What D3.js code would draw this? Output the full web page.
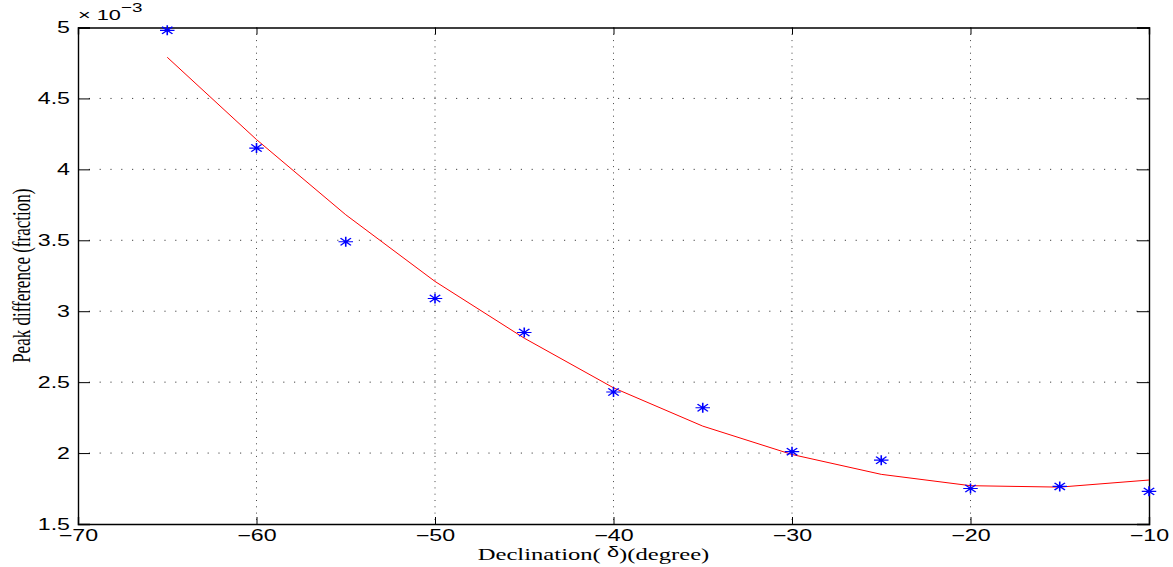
<!DOCTYPE html>
<html>
<head>
<meta charset="utf-8">
<script src="https://cdn.jsdelivr.net/npm/d3@7"></script>
<style>
  body { margin: 0; background: #fff; }
  svg { display: block; }
</style>
</head>
<body>
<div id="graph"></div>
<script>
// data (y values in units of 1e-3)
var declination = [-65, -60, -55, -50, -45, -40, -35, -30, -25, -20, -15, -10];
var measured = [4.98, 4.15, 3.49, 3.09, 2.85, 2.43, 2.32, 2.01, 1.95, 1.75, 1.765, 1.73];
var fitted = [4.79, 4.21, 3.68, 3.21, 2.81, 2.46, 2.19, 1.99, 1.85, 1.77, 1.76, 1.81];
var xTicks = [-70, -60, -50, -40, -30, -20, -10];
var yTicks = [1.5, 2, 2.5, 3, 3.5, 4, 4.5, 5];

// the picture is stretched horizontally, so text gets stretched too
var stretch = 1.45;

var margin = { top: 27.5, right: 24, bottom: 43, left: 78 },
    W = 1173, H = 567,
    width = W - margin.left - margin.right,
    height = H - margin.top - margin.bottom;

var x = d3.scaleLinear().domain([-70, -10]).range([0, width]);
var y = d3.scaleLinear().domain([1.5, 5]).range([height, 0]);

var svg = d3.select("#graph").append("svg")
    .attr("width", W)
    .attr("height", H);

var g = svg.append("g")
    .attr("transform", "translate(" + margin.left + "," + margin.top + ")");

// dotted grid
g.append("g").selectAll("line.gx")
    .data(xTicks.slice(1, -1))
    .enter().append("line")
    .attr("x1", function(d) { return x(d); })
    .attr("x2", function(d) { return x(d); })
    .attr("y1", 0).attr("y2", height)
    .attr("stroke", "#444")
    .attr("stroke-width", 1)
    .attr("stroke-dasharray", "1,5.3");

g.append("g").selectAll("line.gy")
    .data(yTicks.slice(1, -1))
    .enter().append("line")
    .attr("y1", function(d) { return y(d); })
    .attr("y2", function(d) { return y(d); })
    .attr("x1", 0).attr("x2", width)
    .attr("stroke", "#444")
    .attr("stroke-width", 1)
    .attr("stroke-dasharray", "1.2,9.6");

// axes, ticks pointing inward like matlab
var font = "'Liberation Sans', Arial, sans-serif";

var bottom = g.append("g")
    .attr("transform", "translate(0," + height + ")")
    .call(d3.axisBottom(x).tickValues(xTicks).tickSize(-7).tickPadding(0)
        .tickFormat(function(d) { return d3.format("d")(d).replace("-", "\u2212"); }));

bottom.selectAll("text")
    .attr("y", 0)
    .attr("dy", "1.05em")
    .attr("transform", "scale(" + stretch + ",1)")
    .style("font-family", font)
    .style("font-size", "16px");

var left = g.append("g")
    .call(d3.axisLeft(y).tickValues(yTicks).tickSize(-12).tickPadding(0)
        .tickFormat(d3.format("~g")));

left.selectAll("text")
    .attr("x", -8 / stretch)
    .attr("transform", "scale(" + stretch + ",1)")
    .style("font-family", font)
    .style("font-size", "16px");

g.append("g")
    .call(d3.axisTop(x).tickValues(xTicks).tickSize(-7).tickFormat(""));

g.append("g")
    .attr("transform", "translate(" + width + ",0)")
    .call(d3.axisRight(y).tickValues(yTicks).tickSize(-12).tickFormat(""));

g.selectAll(".domain").attr("stroke", "#000").attr("stroke-width", 1.4);
g.selectAll(".tick line").attr("stroke", "#000");

// fitted curve
var line = d3.line()
    .x(function(d, i) { return x(declination[i]); })
    .y(function(d) { return y(d); });

g.append("path")
    .datum(fitted)
    .attr("fill", "none")
    .attr("stroke", "#ff0000")
    .attr("stroke-width", 1)
    .attr("d", line);

// measured points as asterisks
var r = 5, k = r * 0.72;
var star = "M" + (-r) + ",0H" + r +
    "M0," + (-r) + "V" + r +
    "M" + (-k) + "," + (-k) + "L" + k + "," + k +
    "M" + (-k) + "," + k + "L" + k + "," + (-k);

g.append("g").selectAll("path")
    .data(measured)
    .enter().append("path")
    .attr("d", star)
    .attr("transform", function(d, i) {
        return "translate(" + x(declination[i]) + "," + y(d) + ") scale(" + stretch + ",1)";
    })
    .attr("fill", "none")
    .attr("stroke", "#0000ff")
    .attr("stroke-width", 1.1);

// exponent label
var expo = svg.append("text")
    .attr("transform", "translate(" + (margin.left) + ",20) scale(" + stretch + ",1)")
    .style("font-family", font)
    .style("font-size", "15px");
expo.append("tspan").text("\u00d7 10");
expo.append("tspan").attr("dy", -8).style("font-size", "13px").text("\u22123");

// axis titles
var serif = "'Liberation Serif', 'Times New Roman', serif";

var xlab = svg.append("text")
    .attr("transform", "translate(" + (margin.left + x(-40) - 20) + ",560) scale(" + stretch + ",1)")
    .attr("text-anchor", "middle")
    .style("font-family", serif)
    .style("font-size", "17px");
xlab.append("tspan").text("Declination( ");
xlab.append("tspan").attr("dy", -3).style("font-family", font).style("font-size", "15px").text("\u03b4");
xlab.append("tspan").attr("dy", 3).text(")(degree)");

svg.append("text")
    .attr("transform", "translate(30," + (margin.top + height / 2) + ") scale(" + stretch + ",1) rotate(-90)")
    .attr("text-anchor", "middle")
    .style("font-family", serif)
    .style("font-size", "17px")
    .text("Peak difference (fraction)");
</script>
</body>
</html>
